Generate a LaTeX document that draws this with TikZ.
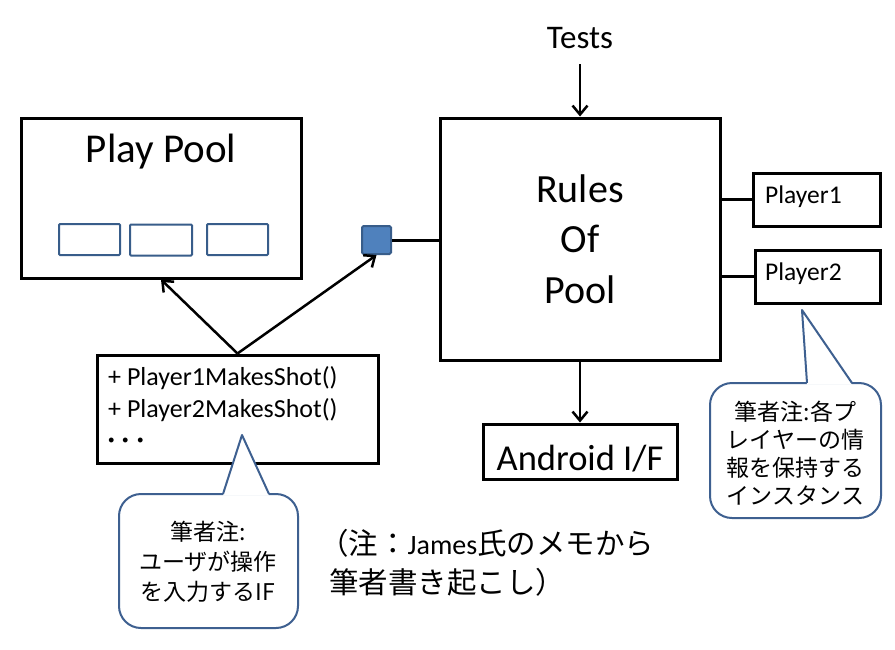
\documentclass[tikz,border=0pt]{standalone}
\usepackage{fontspec}
\setmainfont{Carlito}
\newfontfamily\jp{Noto Sans CJK JP}
\usetikzlibrary{arrows.meta}
\definecolor{bluefill}{HTML}{4F81BD}
\definecolor{blueline}{HTML}{385D8A}
\definecolor{calloutline}{HTML}{3E6090}
\begin{document}
\begin{tikzpicture}[x=1pt,y=-1pt,
  box/.style={draw=black, line width=3pt, fill=white, inner sep=0pt},
  slot/.style={draw=blueline, line width=2pt, rounded corners=1pt, inner sep=0pt, minimum width=61pt, minimum height=31pt},
  arr/.style={line width=2.5pt, -{Straight Barb[length=9pt,width=15pt,line width=2.5pt]}},
  link/.style={line width=3pt},
  callout/.style={draw=calloutline, line width=2pt, fill=white},
  calloutside/.style={draw=calloutline, line width=2pt, line join=round},
  txt/.style={inner sep=0pt},
]
\useasboundingbox (0,0) rectangle (895,649);
\fill[white] (0,0) rectangle (895,649);

% Play Pool
\node[box, minimum width=280pt, minimum height=160pt] (pool) at (161,198) {};
\node[txt, anchor=base, font=\fontsize{41}{41}\selectfont] (pooltitle) at (161,162) {Play Pool};
\node[slot] (s1) at (89.5,239.5) {};
\node[slot, minimum width=62pt] (s2) at (161,240) {};
\node[slot] (s3) at (237.5,239.5) {};

% small blue square
\node[draw=blueline, fill=bluefill, line width=2pt, rounded corners=1.5pt, minimum width=29pt, minimum height=28pt, inner sep=0pt] (sq) at (376.5,240) {};

% Rules of Pool
\node[box, minimum width=280pt, minimum height=242pt, align=center, font=\fontsize{40}{50.5}\selectfont] (rules) at (580,239) {Rules\\Of\\Pool};

% Tests
\node[anchor=base, inner xsep=0pt, inner ysep=16pt, font=\fontsize{33}{33}\selectfont] (tests) at (580,48) {Tests};

% Android
\node[box, minimum width=194pt, minimum height=55pt] (android) at (580,451.5) {};
\node[txt, anchor=base, font=\fontsize{36.5}{36.5}\selectfont] (androidtxt) at (580,470) {Android I/F};

% Players
\node[box, minimum width=127pt, minimum height=53pt] (p1) at (816.5,199.5) {};
\node[txt, anchor=base west, font=\fontsize{25.5}{25.5}\selectfont] (p1txt) at (765,203) {Player1};
\node[box, minimum width=125pt, minimum height=53pt] (p2) at (817.5,276.5) {};
\node[txt, anchor=base west, font=\fontsize{25.5}{25.5}\selectfont] (p2txt) at (765,280) {Player2};

% Methods box
\node[box, minimum width=281pt, minimum height=108pt] (methods) at (237.5,409) {};
\node[txt, anchor=base west, font=\fontsize{26}{26}\selectfont] (m1) at (108,385) {+ Player1MakesShot()};
\node[txt, anchor=base west, font=\fontsize{26}{26}\selectfont] (m2) at (108,417) {+ Player2MakesShot()};
\node[txt, anchor=base west, font=\jp\fontsize{29}{29}\selectfont] (m3) at (104,451) {･･･};

% connectors
\draw[arr] (tests.south) -- (rules.north);
\draw[arr] (rules.south) -- (android.north);
\draw[link] (sq.east) -- (rules.west |- sq.east);
\draw[link] (rules.east |- p1.west) -- (p1.west);
\draw[link] (rules.east |- p2.west) -- (p2.west);
\draw[arr] (methods.north) -- (pool.south);
\draw[arr] (methods.north) -- (sq.south);

% left callout
\draw[callout, rounded corners=22pt] (119,494) rectangle (298,628);
\fill[white] (223,495.5) -- (242,435) -- (269,495.5) -- cycle;
\draw[calloutside] (223,494) -- (242,435) -- (269,494);
\node[txt, align=center, font=\jp\fontsize{23}{30}\selectfont] (c1) at (208,562) {筆者注:\\ユーザが操作\\を入力するIF};

% right callout
\draw[callout, rounded corners=22pt] (710,383) rectangle (881,518);
\fill[white] (807,384.5) -- (802,310) -- (852,384.5) -- cycle;
\draw[calloutside] (807,383) -- (802,310) -- (852,383);
\node[txt, align=center, font=\jp\fontsize{23}{28}\selectfont] (c2) at (795.5,453) {筆者注:各プ\\レイヤーの情\\報を保持する\\インスタンス};

% note
\node[txt, anchor=base west, font=\jp\fontsize{29.5}{29.5}\selectfont] (n1) at (319,554) {（注：{\rmfamily\fontsize{28}{28}\selectfont James}氏のメモから};
\node[txt, anchor=base west, font=\jp\fontsize{29.5}{29.5}\selectfont] (n2) at (329,593) {筆者書き起こし）};
\end{tikzpicture}
\end{document}
